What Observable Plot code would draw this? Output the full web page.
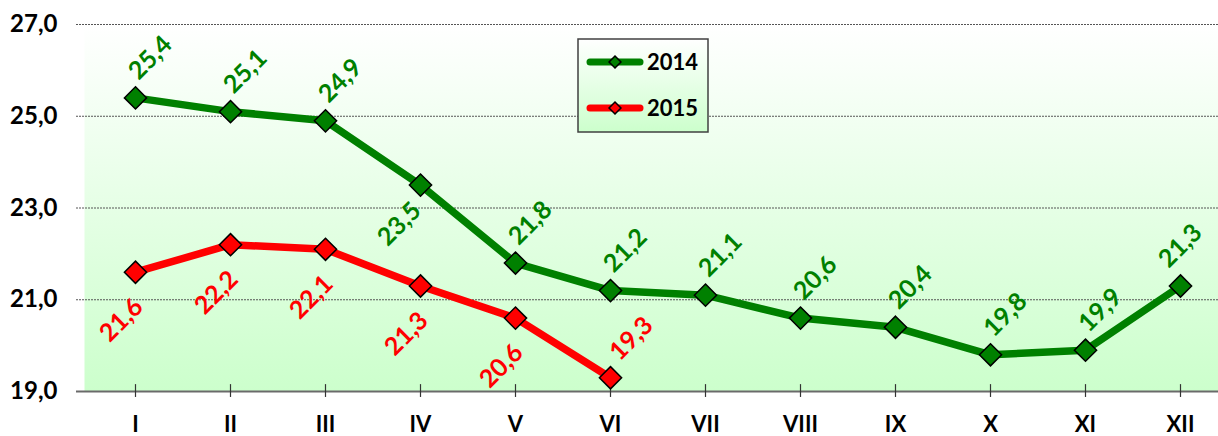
<!DOCTYPE html>
<html>
<head>
<meta charset="utf-8">
<script src="https://cdn.jsdelivr.net/npm/d3@7"></script>
<script src="https://cdn.jsdelivr.net/npm/@observablehq/plot@0.6"></script>
<style>
  body { margin: 0; background: #fff; }
  #wrap { position: relative; width: 1218px; height: 436px; font-family: Lato, "Open Sans", sans-serif; }
  #legend { position: absolute; left: 577px; top: 38px; }
</style>
</head>
<body>
<div id="wrap"></div>
<script>
const months = ["I", "II", "III", "IV", "V", "VI", "VII", "VIII", "IX", "X", "XI", "XII"];
const values2014 = [25.4, 25.1, 24.9, 23.5, 21.8, 21.2, 21.1, 20.6, 20.4, 19.8, 19.9, 21.3];
const values2015 = [21.6, 22.2, 22.1, 21.3, 20.6, 19.3];
const yTicks = [19, 21, 23, 25, 27];
const seriesNames = ["2014", "2015"];
const seriesColors = ["#008000", "#ff0000"];

const d2014 = values2014.map((v, i) => ({month: months[i], value: v, i}));
const d2015 = values2015.map((v, i) => ({month: months[i], value: v, i}));
const fmt = d => d.toFixed(1).replace(".", ",");
const font = "Lato, 'Open Sans', sans-serif";

const defs = () => {
  const g = d3.create("svg:defs");
  const lg = g.append("linearGradient").attr("id", "bgGrad").attr("x1", 0).attr("y1", 0).attr("x2", 0).attr("y2", 1);
  lg.append("stop").attr("offset", "0%").attr("stop-color", "#ffffff");
  lg.append("stop").attr("offset", "100%").attr("stop-color", "#ccffcc");
  return g.node();
};

const textStyle = {fontSize: 25, fontWeight: "bold", rotate: -45, fontFamily: font, textAnchor: "middle", lineAnchor: "middle"};
const last2014 = values2014.length - 1;

const chart = Plot.plot({
  width: 1218,
  height: 436,
  marginLeft: 84,
  marginRight: 0,
  marginTop: 24,
  marginBottom: 45,
  style: {fontFamily: font, background: "transparent"},
  x: {type: "point", domain: months, range: [84, 1231], padding: 0.5},
  y: {domain: [19, 27]},
  marks: [
    defs,
    Plot.frame({fill: "url(#bgGrad)", stroke: "none"}),
    Plot.ruleY(yTicks.filter(t => t !== 19), {stroke: "#555", strokeWidth: 1, strokeDasharray: "2,1", insetLeft: -8}),
    Plot.ruleY([19], {stroke: "#6a6a6a", strokeWidth: 2, insetLeft: -8}),
    Plot.axisY({ticks: yTicks, tickFormat: fmt, tickSize: 0, tickPadding: 27, line: true, stroke: "#000", fontSize: 24, fontWeight: "bold", fill: "#000", label: null}),
    Plot.axisX({tickSize: 0, tickPadding: 25, fontSize: 22, fontWeight: "bold", fill: "#000", label: null}),
    Plot.ruleX(months, {x: d => d, y1: 18.87, y2: 19.15, stroke: "#333", strokeWidth: 1.2}),
    Plot.line(d2014, {x: "month", y: "value", stroke: seriesColors[0], strokeWidth: 7.5}),
    Plot.line(d2015, {x: "month", y: "value", stroke: seriesColors[1], strokeWidth: 7.5}),
    Plot.dot(d2014, {x: "month", y: "value", symbol: "diamond2", r: 10, fill: seriesColors[0], stroke: "#000", strokeWidth: 1.5}),
    Plot.dot(d2015, {x: "month", y: "value", symbol: "diamond2", r: 10, fill: seriesColors[1], stroke: "#000", strokeWidth: 1.5}),
    Plot.text(d2014.filter(d => d.i !== 3 && d.i !== last2014), {x: "month", y: "value", text: d => fmt(d.value), fill: seriesColors[0], dx: 15, dy: -40, ...textStyle}),
    Plot.text(d2014.filter(d => d.i === last2014), {x: "month", y: "value", text: d => fmt(d.value), fill: seriesColors[0], dx: 0, dy: -40, ...textStyle}),
    Plot.text(d2014.filter(d => d.i === 3), {x: "month", y: "value", text: d => fmt(d.value), fill: seriesColors[0], dx: -21, dy: 39, ...textStyle}),
    Plot.text(d2015.filter(d => d.i !== 5), {x: "month", y: "value", text: d => fmt(d.value), fill: seriesColors[1], dx: -14, dy: 48, ...textStyle}),
    Plot.text(d2015.filter(d => d.i === 5), {x: "month", y: "value", text: d => fmt(d.value), fill: seriesColors[1], dx: 21, dy: -39, ...textStyle})
  ]
});

const wrap = document.getElementById("wrap");
wrap.appendChild(chart);

// Legend
const leg = d3.create("svg").attr("id", "legend").attr("width", 133).attr("height", 96);
const lgd = leg.append("defs").append("linearGradient").attr("id", "legGrad").attr("x1", 0).attr("y1", 0).attr("x2", 0).attr("y2", 1);
lgd.append("stop").attr("offset", "0%").attr("stop-color", "#ffffff");
lgd.append("stop").attr("offset", "100%").attr("stop-color", "#ccffcc");
leg.append("rect").attr("x", 1).attr("y", 1).attr("width", 130).attr("height", 93)
  .attr("fill", "url(#legGrad)").attr("stroke", "#404040").attr("stroke-width", 1.5);
seriesNames.forEach((name, k) => {
  const cy = 24 + k * 46;
  leg.append("line").attr("x1", 13).attr("x2", 63).attr("y1", cy).attr("y2", cy)
    .attr("stroke", seriesColors[k]).attr("stroke-width", 7).attr("stroke-linecap", "round");
  leg.append("path").attr("d", d3.symbol(d3.symbolDiamond2, 90)()).attr("transform", `translate(38,${cy})`)
    .attr("fill", seriesColors[k]).attr("stroke", "#000").attr("stroke-width", 1.5);
  leg.append("text").attr("x", 70).attr("y", cy).attr("dy", "0.36em").attr("font-family", font)
    .attr("font-size", 22).attr("font-weight", "bold").attr("fill", "#000").text(name);
});
wrap.appendChild(leg.node());
</script>
</body>
</html>
